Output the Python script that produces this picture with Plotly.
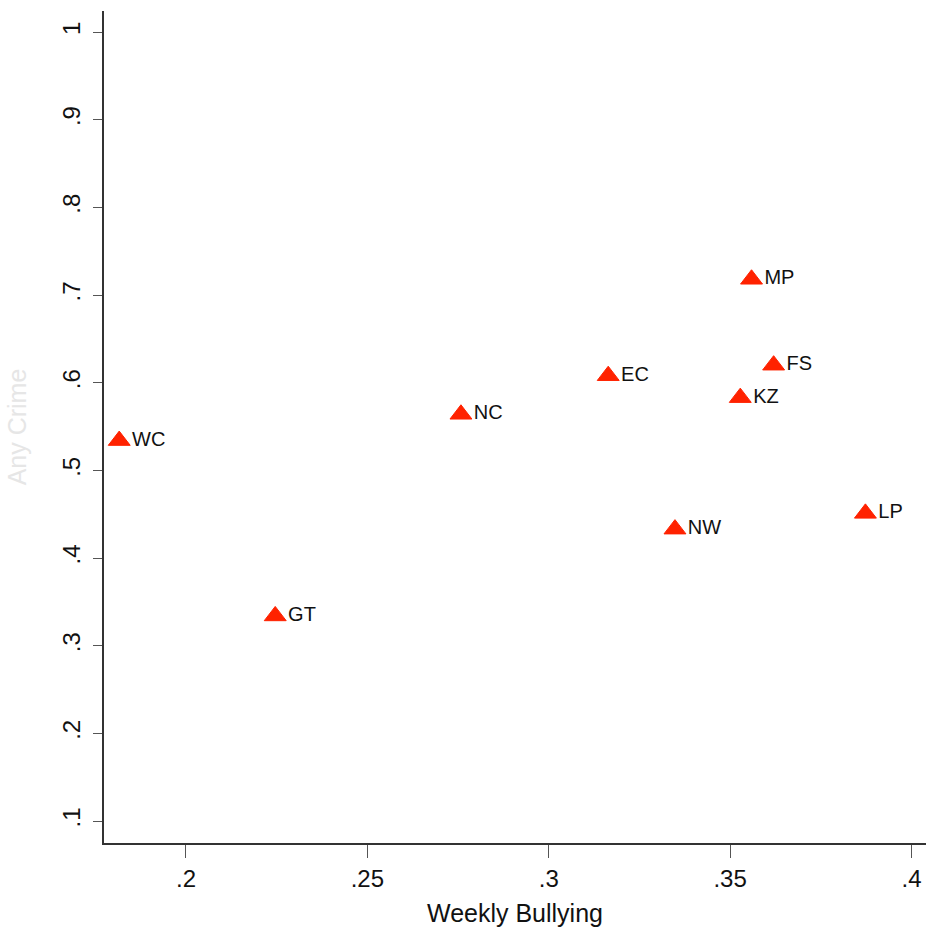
import plotly.graph_objects as go

# Data
regions = ["WC", "GT", "NC", "EC", "NW", "KZ", "MP", "FS", "LP"]
weekly_bullying = [0.1816, 0.2246, 0.2758, 0.3164, 0.3348, 0.3528, 0.3559, 0.3620, 0.3873]
any_crime = [0.534, 0.334, 0.564, 0.608, 0.433, 0.583, 0.718, 0.620, 0.451]

x_tickvals = [0.2, 0.25, 0.3, 0.35, 0.4]
x_ticktext = [".2", ".25", ".3", ".35", ".4"]
y_tickvals = [0.1, 0.2, 0.3, 0.4, 0.5, 0.6, 0.7, 0.8, 0.9, 1.0]
y_ticktext = [".1", ".2", ".3", ".4", ".5", ".6", ".7", ".8", ".9", "1"]

FONT = "Liberation Sans, Arial, sans-serif"

fig = go.Figure()
fig.add_trace(go.Scatter(
    x=weekly_bullying, y=any_crime, mode="markers+text",
    text=regions, textposition="middle right",
    textfont=dict(family=FONT, size=20, color="#111111"),
    marker=dict(symbol="triangle-up", size=19, color="#FF2200",
                line=dict(color="#FF2200", width=1)),
    cliponaxis=False, showlegend=False,
))

fig.update_layout(
    width=926, height=938,
    margin=dict(l=104, r=0, t=11, b=95),
    paper_bgcolor="white", plot_bgcolor="white",
    xaxis=dict(
        range=[0.1774, 0.4040], tickvals=x_tickvals, ticktext=x_ticktext,
        automargin=False,
        showgrid=False, zeroline=False, showline=True, linecolor="#333333", linewidth=1.5,
        ticks="outside", ticklen=13, tickcolor="#555555", tickwidth=1.2,
        tickfont=dict(family=FONT, size=24, color="#111111"),
        title=dict(text="Weekly Bullying", font=dict(family=FONT, size=25, color="#111111"), standoff=14),
    ),
    yaxis=dict(
        range=[0.075, 1.024], tickvals=y_tickvals, ticktext=y_ticktext,
        automargin=False,
        showgrid=False, zeroline=False, showline=True, linecolor="#333333", linewidth=1.5,
        ticks="outside", ticklen=9, tickcolor="#555555", tickwidth=1.2, tickangle=-90,
        ticklabelstandoff=4,
        tickfont=dict(family=FONT, size=24, color="#111111"),
        title=dict(text="Any Crime", font=dict(family=FONT, size=25, color="#E6E6E6"), standoff=24),
    ),
)

fig.write_html("out.html", config={"displayModeBar": False},
               post_script="document.body.style.margin='0';document.body.style.overflow='hidden';")
